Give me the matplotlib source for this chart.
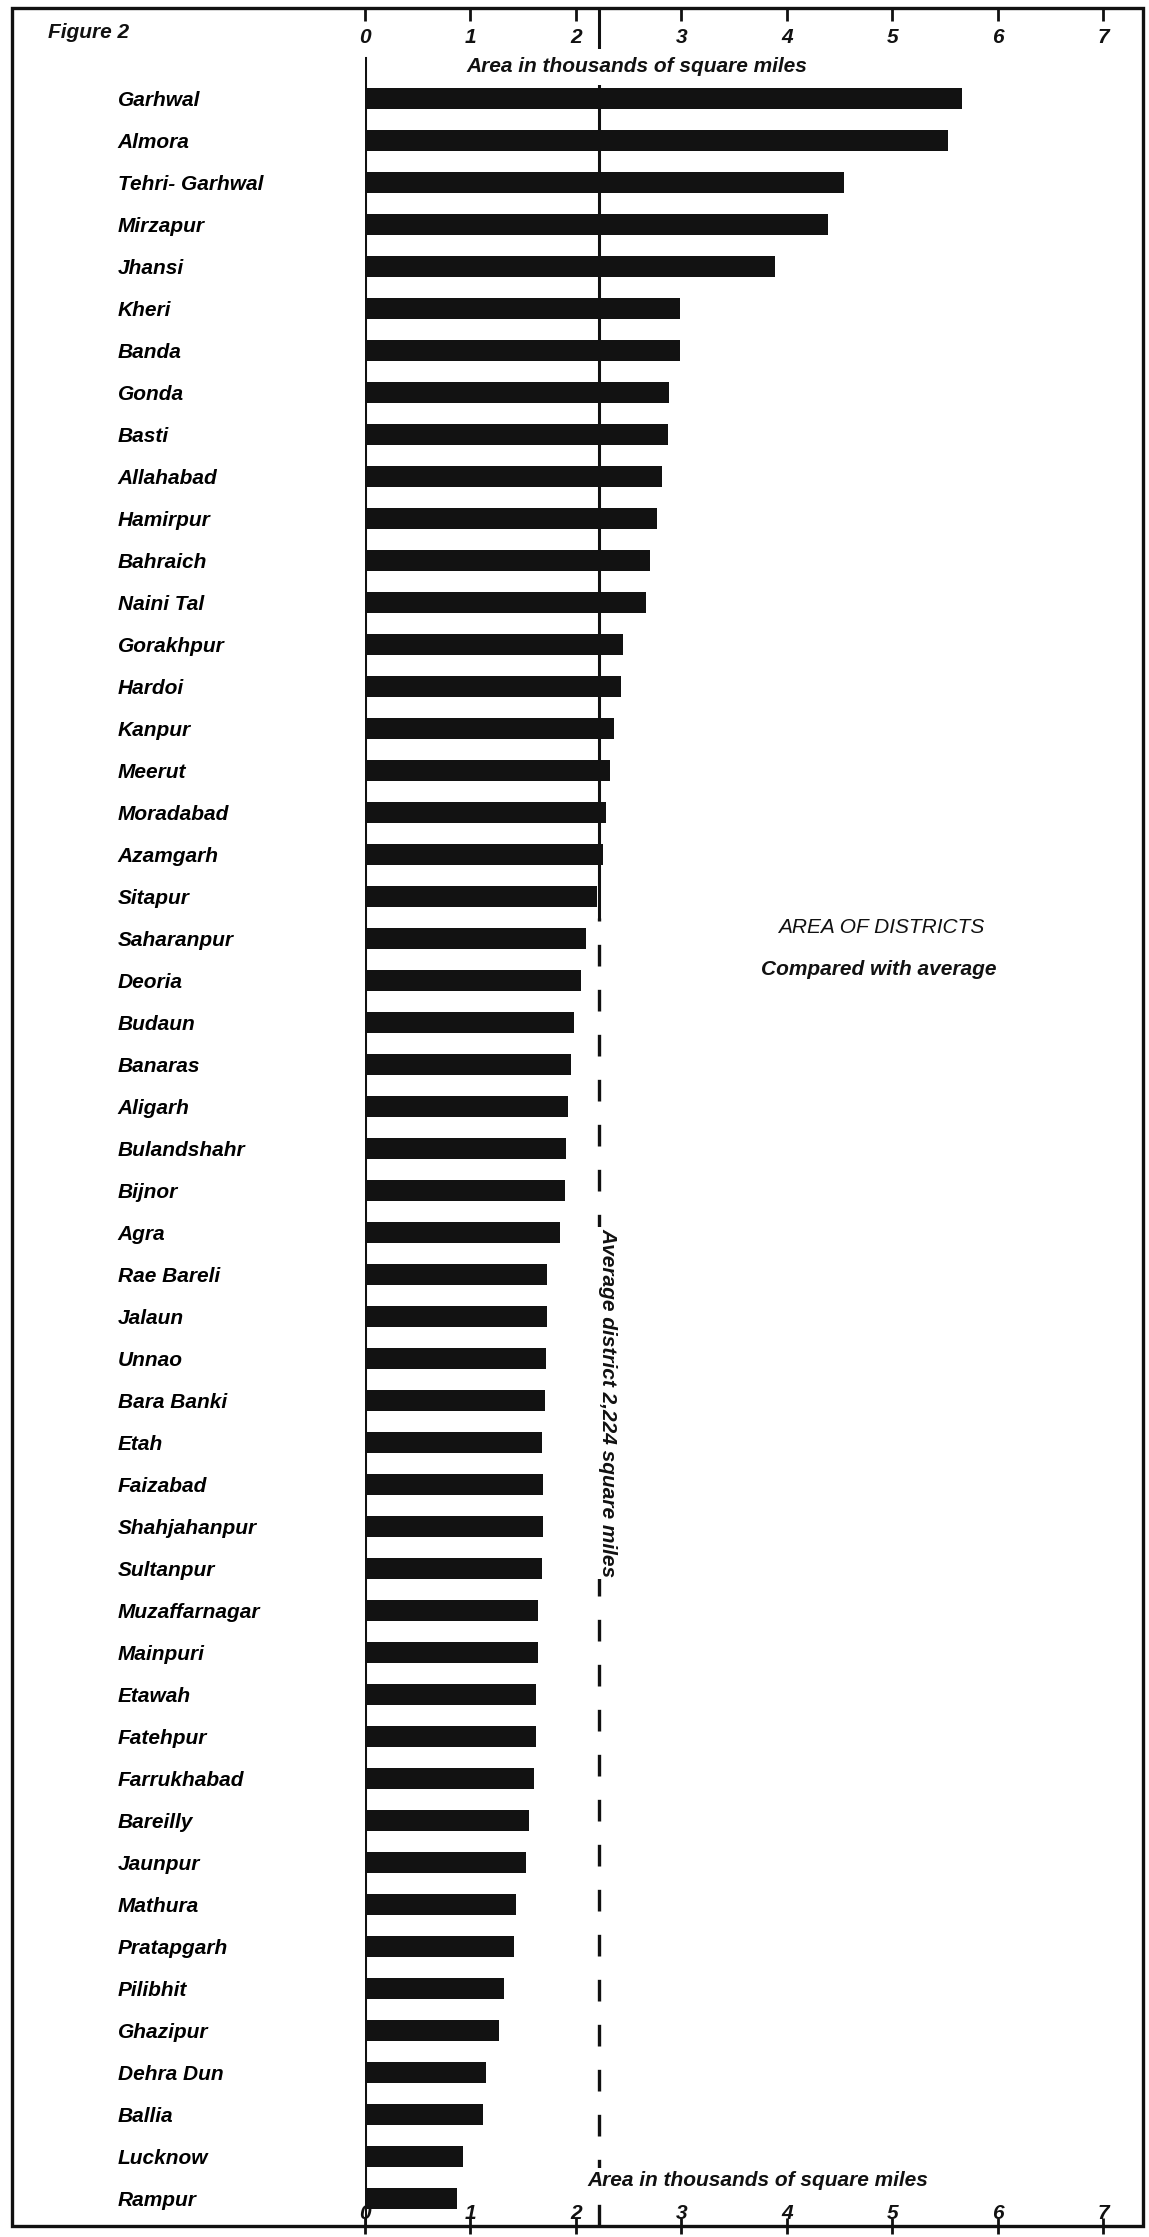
import matplotlib
matplotlib.use("Agg")
import matplotlib.pyplot as plt
from matplotlib.patches import Rectangle

plt.rcParams["font.family"] = ["Liberation Sans", "DejaVu Sans"]
plt.rcParams["font.weight"] = "bold"
plt.rcParams["font.style"] = "italic"

districts = [
    "Garhwal", "Almora", "Tehri- Garhwal", "Mirzapur", "Jhansi", "Kheri",
    "Banda", "Gonda", "Basti", "Allahabad", "Hamirpur", "Bahraich",
    "Naini Tal", "Gorakhpur", "Hardoi", "Kanpur", "Meerut", "Moradabad",
    "Azamgarh", "Sitapur", "Saharanpur", "Deoria", "Budaun", "Banaras",
    "Aligarh", "Bulandshahr", "Bijnor", "Agra", "Rae Bareli", "Jalaun",
    "Unnao", "Bara Banki", "Etah", "Faizabad", "Shahjahanpur", "Sultanpur",
    "Muzaffarnagar", "Mainpuri", "Etawah", "Fatehpur", "Farrukhabad",
    "Bareilly", "Jaunpur", "Mathura", "Pratapgarh", "Pilibhit", "Ghazipur",
    "Dehra Dun", "Ballia", "Lucknow", "Rampur",
]
# area in thousands of square miles
area = [
    5.66, 5.53, 4.54, 4.39, 3.89, 2.99,
    2.99, 2.88, 2.87, 2.82, 2.77, 2.70,
    2.67, 2.45, 2.43, 2.36, 2.32, 2.29,
    2.26, 2.20, 2.10, 2.05, 1.98, 1.95,
    1.93, 1.91, 1.90, 1.85, 1.73, 1.73,
    1.72, 1.71, 1.68, 1.69, 1.69, 1.68,
    1.64, 1.64, 1.62, 1.62, 1.60,
    1.56, 1.53, 1.43, 1.41, 1.32, 1.27,
    1.15, 1.12, 0.93, 0.87,
]
average = 2.224
xticks = [0, 1, 2, 3, 4, 5, 6, 7]

W, H = 1149, 2237
fig = plt.figure(figsize=(W / 100, H / 100), dpi=100)

# frame round the whole figure
fig.add_artist(Rectangle((12 / W, 1 - 2226 / H), (1143 - 12) / W, (2226 - 8) / H,
                         transform=fig.transFigure, fill=False,
                         edgecolor="#111111", linewidth=2.4))

ax_left, ax_right, ax_top, ax_bot = 365, 1103, 8, 2226
ax = fig.add_axes([ax_left / W, 1 - ax_bot / H, (ax_right - ax_left) / W, (ax_bot - ax_top) / H])

n = len(districts)
row_px = 42
y_top = -(98.5 - ax_top) / row_px
y_bot = (n - 1) + (ax_bot - (98.5 + row_px * (n - 1))) / row_px
ax.set_ylim(y_bot, y_top)
ax.set_xlim(0, 7)


def yfrac(y):
    return (y_bot - y) / (y_bot - y_top)


def pxfrac(px):
    # pixel row in the figure -> axes fraction
    return (ax_bot - px) / (ax_bot - ax_top)


ax.barh(range(n), area, height=0.52, color="#121212", zorder=3)

# zero line and the average line
ax.axvline(0, ymin=0, ymax=yfrac(-0.965), color="#111111", lw=2.2, zorder=4)
ax.axvline(average, ymin=yfrac(19.5), ymax=1, color="#111111", lw=2.2, zorder=1)
ax.axvline(average, ymin=0, ymax=yfrac(19.5), color="#111111", lw=2.4,
           linestyle=(0, (6.5, 7.0)), zorder=1)

for s in ax.spines.values():
    s.set_visible(False)

# top ticks point down into the chart, bottom ticks cross the frame
ax.set_xticks(xticks)
ax.tick_params(axis="x", top=True, bottom=False, labeltop=False, labelbottom=False,
               direction="in", length=9, width=2.0, color="#111111")
sec = ax.secondary_xaxis("bottom")
sec.set_xticks(xticks)
sec.tick_params(direction="inout", length=12, width=2.0, color="#111111",
                labelbottom=False)
sec.spines["bottom"].set_visible(False)

txt = dict(fontsize=15, fontweight="bold", fontstyle="italic", color="#111111")
xt = ax.get_xaxis_transform()
for t in xticks:
    ax.text(t, pxfrac(43), str(t), transform=xt, ha="center", va="baseline", **txt)
    ax.text(t, pxfrac(2219), str(t), transform=xt, ha="center", va="baseline", **txt)

ax.set_yticks(range(n))
ax.set_yticklabels(districts)
ax.tick_params(axis="y", length=0, pad=178, labelsize=15)
for lab in ax.get_yticklabels():
    lab.set_horizontalalignment("left")
    lab.set_fontweight("bold")
    lab.set_fontstyle("italic")

ax.text(2.58, -0.75, "Area in thousands of square miles", ha="center", va="center",
        bbox=dict(facecolor="white", edgecolor="none", pad=6), zorder=5, **txt)
ax.text(3.73, 49.56, "Area in thousands of square miles", ha="center", va="center",
        bbox=dict(facecolor="white", edgecolor="none", pad=2), zorder=5, **txt)
ax.text(2.30, 31.06, "Average district 2,224 square miles", rotation=-90,
        ha="center", va="center", zorder=5,
        bbox=dict(facecolor="white", edgecolor="none", pad=1), **txt)
ax.text(4.90, 19.73, "AREA OF DISTRICTS", ha="center", va="center",
        fontsize=15, fontweight="normal", fontstyle="italic", color="#111111")
ax.text(4.87, 20.73, "Compared with average", ha="center", va="center", **txt)

fig.text(48 / W, 1 - 33 / H, "Figure 2", ha="left", va="center", **txt)

fig.savefig("out.png", dpi=100)
